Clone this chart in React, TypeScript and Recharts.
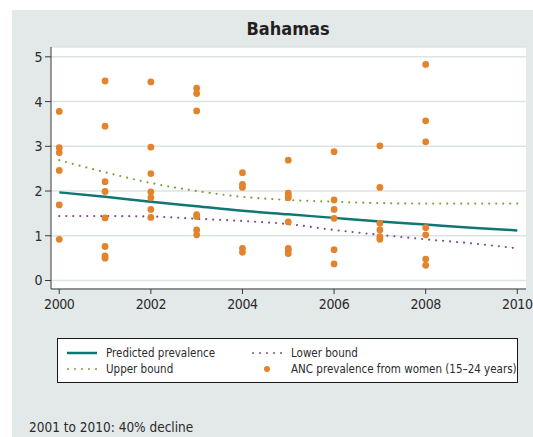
import React from 'react';
import {
  CartesianGrid,
  ComposedChart,
  Line,
  Scatter,
  XAxis,
  YAxis,
} from 'recharts';

const years = [2000, 2001, 2002, 2003, 2004, 2005, 2006, 2007, 2008, 2009, 2010];
const predicted = [1.97, 1.87, 1.76, 1.66, 1.56, 1.48, 1.4, 1.32, 1.25, 1.18, 1.12];
const upperBound = [2.69, 2.42, 2.18, 2.0, 1.87, 1.8, 1.76, 1.73, 1.72, 1.72, 1.72];
const lowerBound = [1.44, 1.44, 1.43, 1.38, 1.33, 1.26, 1.13, 1.02, 0.92, 0.83, 0.72];

const ancYears = [2000, 2001, 2002, 2003, 2004, 2005, 2006, 2007, 2008];
const ancValues = [
  [3.78, 2.97, 2.86, 2.46, 1.69, 0.92],
  [4.46, 3.45, 2.21, 1.99, 1.4, 0.76, 0.55, 0.5],
  [4.44, 2.98, 2.39, 1.98, 1.85, 1.59, 1.41],
  [4.3, 4.18, 3.79, 1.47, 1.43, 1.13, 1.02],
  [2.41, 2.15, 2.08, 0.72, 0.63],
  [2.69, 1.95, 1.89, 1.85, 1.31, 0.72, 0.67, 0.6],
  [2.88, 1.8, 1.59, 1.39, 0.69, 0.37],
  [3.01, 2.08, 1.28, 1.13, 0.98, 0.92],
  [4.83, 3.57, 3.1, 1.18, 1.02, 0.48, 0.34],
];

const xTicks = [2000, 2002, 2004, 2006, 2008, 2010];
const yTicks = [0, 1, 2, 3, 4, 5];

const lineRows = years.map((year, i) => ({
  year,
  predicted: predicted[i],
  upper: upperBound[i],
  lower: lowerBound[i],
}));

const ancRows = ancYears.flatMap((year, i) =>
  ancValues[i].map((value) => ({ year, value })),
);

const FONT = "'DejaVu Sans Condensed', 'DejaVu Sans', sans-serif";
const TEAL = '#0e7774';
const GREEN = '#7aa137';
const PURPLE = '#7a4f8e';
const ORANGE = '#e3832c';
const AXIS = '#3a3a3a';
const TICK = {
  fill: '#2b2b2b',
  fontSize: 14,
  fontFamily: FONT,
  style: { fontStretch: 'condensed', letterSpacing: -0.4 },
};

function LegendItem({ kind, color, label }: { kind: string; color: string; label: string }) {
  return (
    <div style={{ display: 'flex', alignItems: 'center', height: 16, whiteSpace: 'nowrap' }}>
      <svg width={34} height={10} style={{ marginRight: 6, flex: 'none' }}>
        {kind === 'solid' && <line x1={1} y1={5} x2={31} y2={5} stroke={color} strokeWidth={2.5} />}
        {kind === 'dot' && (
          <line x1={2} y1={5} x2={32} y2={5} stroke={color} strokeWidth={2} strokeLinecap="round" strokeDasharray="0 7" />
        )}
        {kind === 'marker' && <circle cx={16} cy={5} r={3} fill={color} />}
      </svg>
      <span>{label}</span>
    </div>
  );
}

export default function App() {
  return (
    <div
      style={{
        position: 'absolute',
        left: 0,
        top: 0,
        width: 533,
        height: 437,
        background: '#fff',
        fontFamily: FONT,
        fontStretch: 'condensed',
        color: '#2b2b2b',
        overflow: 'hidden',
      }}
    >
      <div style={{ position: 'absolute', left: 12, top: 10, width: 521, height: 427, background: '#e3e8e8' }} />
      <div
        style={{
          position: 'absolute',
          left: 12,
          top: 18,
          width: 552,
          textAlign: 'center',
          fontSize: 18,
          fontWeight: 'bold',
          color: '#231f20',
        }}
      >
        Bahamas
      </div>
      <div style={{ position: 'absolute', left: 0, top: 0 }}>
        <ComposedChart
          width={533}
          height={437}
          data={lineRows}
          margin={{ top: 47, right: 7, bottom: 118, left: 0 }}
        >
          <CartesianGrid vertical={false} fill="#fff" stroke="#dde3e3" strokeWidth={1.5} />
          <XAxis
            dataKey="year"
            type="number"
            domain={[1999.82, 2010.19]}
            ticks={xTicks}
            allowDataOverflow
            height={30}
            stroke={AXIS}
            tickLine={{ stroke: AXIS }}
            tickSize={5}
            tickMargin={5}
            tick={TICK}
          />
          <YAxis
            type="number"
            domain={[-0.19, 5.22]}
            ticks={yTicks}
            allowDataOverflow
            width={51}
            stroke={AXIS}
            tickLine={{ stroke: AXIS }}
            tickSize={6}
            tickMargin={3}
            tick={TICK}
          />
          <Line
            type="monotone"
            dataKey="upper"
            stroke={GREEN}
            strokeWidth={2.2}
            strokeLinecap="round"
            strokeDasharray="0 7"
            dot={false}
            isAnimationActive={false}
          />
          <Line
            type="monotone"
            dataKey="lower"
            stroke={PURPLE}
            strokeWidth={2.2}
            strokeLinecap="round"
            strokeDasharray="0 7"
            dot={false}
            isAnimationActive={false}
          />
          <Line
            type="monotone"
            dataKey="predicted"
            stroke={TEAL}
            strokeWidth={2.5}
            dot={false}
            isAnimationActive={false}
          />
          <Scatter
            data={ancRows}
            dataKey="value"
            fill={ORANGE}
            shape={(p: any) => <circle cx={p.cx} cy={p.cy} r={3.4} fill={ORANGE} />}
            isAnimationActive={false}
          />
        </ComposedChart>
      </div>
      <div
        style={{
          position: 'absolute',
          left: 57,
          top: 338,
          width: 461,
          height: 45,
          background: '#fff',
          border: '1px solid #1a1a1a',
          fontSize: 11.5,
          display: 'grid',
          gridTemplateColumns: '185px 1fr',
          alignContent: 'center',
          paddingLeft: 8,
          boxSizing: 'border-box',
        }}
      >
        <LegendItem kind="solid" color={TEAL} label="Predicted prevalence" />
        <LegendItem kind="dot" color={PURPLE} label="Lower bound" />
        <LegendItem kind="dot" color={GREEN} label="Upper bound" />
        <LegendItem kind="marker" color={ORANGE} label="ANC prevalence from women (15–24 years)" />
      </div>
      <div style={{ position: 'absolute', left: 29, top: 419, fontSize: 13.5 }}>2001 to 2010: 40% decline</div>
    </div>
  );
}
